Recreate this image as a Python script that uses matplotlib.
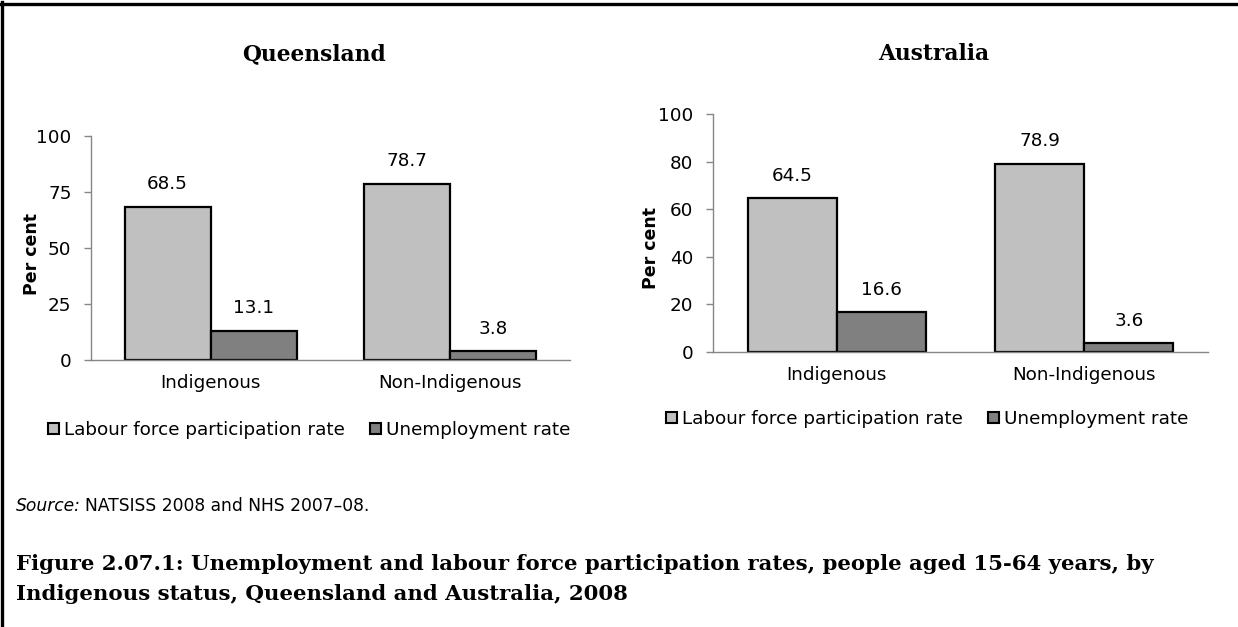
import numpy as np
import matplotlib
matplotlib.use('Agg')
import matplotlib.pyplot as plt
from matplotlib.lines import Line2D
from matplotlib.patches import Patch

# data
categories = ['Indigenous', 'Non-Indigenous']
series_names = ['Labour force participation rate', 'Unemployment rate']
qld_participation = [68.5, 78.7]
qld_unemployment = [13.1, 3.8]
aus_participation = [64.5, 78.9]
aus_unemployment = [16.6, 3.6]
qld_ticks = [0, 25, 50, 75, 100]
aus_ticks = [0, 20, 40, 60, 80, 100]

# the reference is stretched sideways, so wide faces fit it better
SANS = 'DejaVu Sans'
SERIF = 'DejaVu Serif'
FS = 13.2
LIGHT = '#c0c0c0'
DARK = '#808080'
AXIS = '#868686'

W, H = 1238, 627
fig = plt.figure(figsize=(W / 100, H / 100), dpi=100)


def px_rect(x0, y0, x1, y1):
    # pixel box (top-left origin) -> figure fraction rect
    return [x0 / W, 1 - y1 / H, (x1 - x0) / W, (y1 - y0) / H]


def draw_panel(rect, title, title_x, part, unemp, ticks, legend_xy, ylab_xy):
    ax = fig.add_axes(rect)
    x = np.arange(len(categories))
    w = 0.36
    b1 = ax.bar(x - w / 2, part, w, color=LIGHT, edgecolor='black', linewidth=1.6)
    b2 = ax.bar(x + w / 2, unemp, w, color=DARK, edgecolor='black', linewidth=1.6)
    for bars, vals in ((b1, part), (b2, unemp)):
        for r, v in zip(bars, vals):
            ax.annotate(f'{v:.1f}', (r.get_x() + r.get_width() / 2, v),
                        xytext=(0, 16.5), textcoords='offset points',
                        ha='center', va='center', fontsize=FS, family=SANS)
    ax.set_xlim(-0.5, 1.5)
    ax.set_ylim(0, 100)
    ax.set_yticks(ticks)
    ax.set_xticks(x)
    ax.set_xticklabels(categories, fontsize=FS, family=SANS)
    for lab in ax.get_yticklabels():
        lab.set_fontsize(FS)
        lab.set_family(SANS)
    ax.tick_params(axis='y', direction='out', length=5, width=1, color=AXIS, pad=9)
    ax.tick_params(axis='x', length=0, pad=10)
    for s in ('top', 'right'):
        ax.spines[s].set_visible(False)
    for s in ('left', 'bottom'):
        ax.spines[s].set_color(AXIS)
        ax.spines[s].set_linewidth(1)
    ax.set_ylabel('Per cent', fontsize=12.5, fontweight='bold', family=SANS)
    ax.yaxis.set_label_coords(*ylab_xy)

    fig.text(title_x / W, 1 - 60 / H, title, ha='center', va='baseline',
             fontsize=15.7, fontweight='bold', family=SERIF)

    handles = [Patch(facecolor=LIGHT, edgecolor='black', linewidth=1.5),
               Patch(facecolor=DARK, edgecolor='black', linewidth=1.5)]
    fig.legend(handles, series_names, loc='center', ncol=2,
               bbox_to_anchor=(legend_xy[0] / W, 1 - legend_xy[1] / H),
               frameon=False, prop={'family': SANS, 'size': FS},
               handlelength=0.6, handleheight=0.6, handletextpad=0.25,
               columnspacing=1.4, borderpad=0, borderaxespad=0)
    return ax


draw_panel(px_rect(91, 136, 570, 360), 'Queensland', 314,
           qld_participation, qld_unemployment, qld_ticks, (309, 430), (-0.104, 0.473))
draw_panel(px_rect(713, 114, 1208, 352), 'Australia', 934,
           aus_participation, aus_unemployment, aus_ticks, (927, 419), (-0.107, 0.439))

# source line
t = fig.text(16 / W, 1 - 511 / H, 'Source:', ha='left', va='baseline',
             fontsize=12.3, style='italic', family=SANS)
fig.canvas.draw()
bb = t.get_window_extent()
fig.text((bb.x1 + 4) / W, 1 - 511 / H, 'NATSISS 2008 and NHS 2007\u201308.',
         ha='left', va='baseline', fontsize=12.3, family=SANS)

# caption
fig.text(16 / W, 1 - 570 / H,
         'Figure 2.07.1: Unemployment and labour force participation rates, people aged 15-64 years, by',
         ha='left', va='baseline', fontsize=15.3, fontweight='bold', family=SERIF)
fig.text(16 / W, 1 - 600 / H,
         'Indigenous status, Queensland and Australia, 2008',
         ha='left', va='baseline', fontsize=15.3, fontweight='bold', family=SERIF)

# frame lines at top and left
fig.add_artist(Line2D([0, 1], [1 - 3.5 / H, 1 - 3.5 / H], color='black', linewidth=2.4,
                      transform=fig.transFigure))
fig.add_artist(Line2D([2 / W, 2 / W], [0, 1 - 2 / H], color='black', linewidth=2.4,
                      transform=fig.transFigure))

fig.savefig('out.png', dpi=100)
